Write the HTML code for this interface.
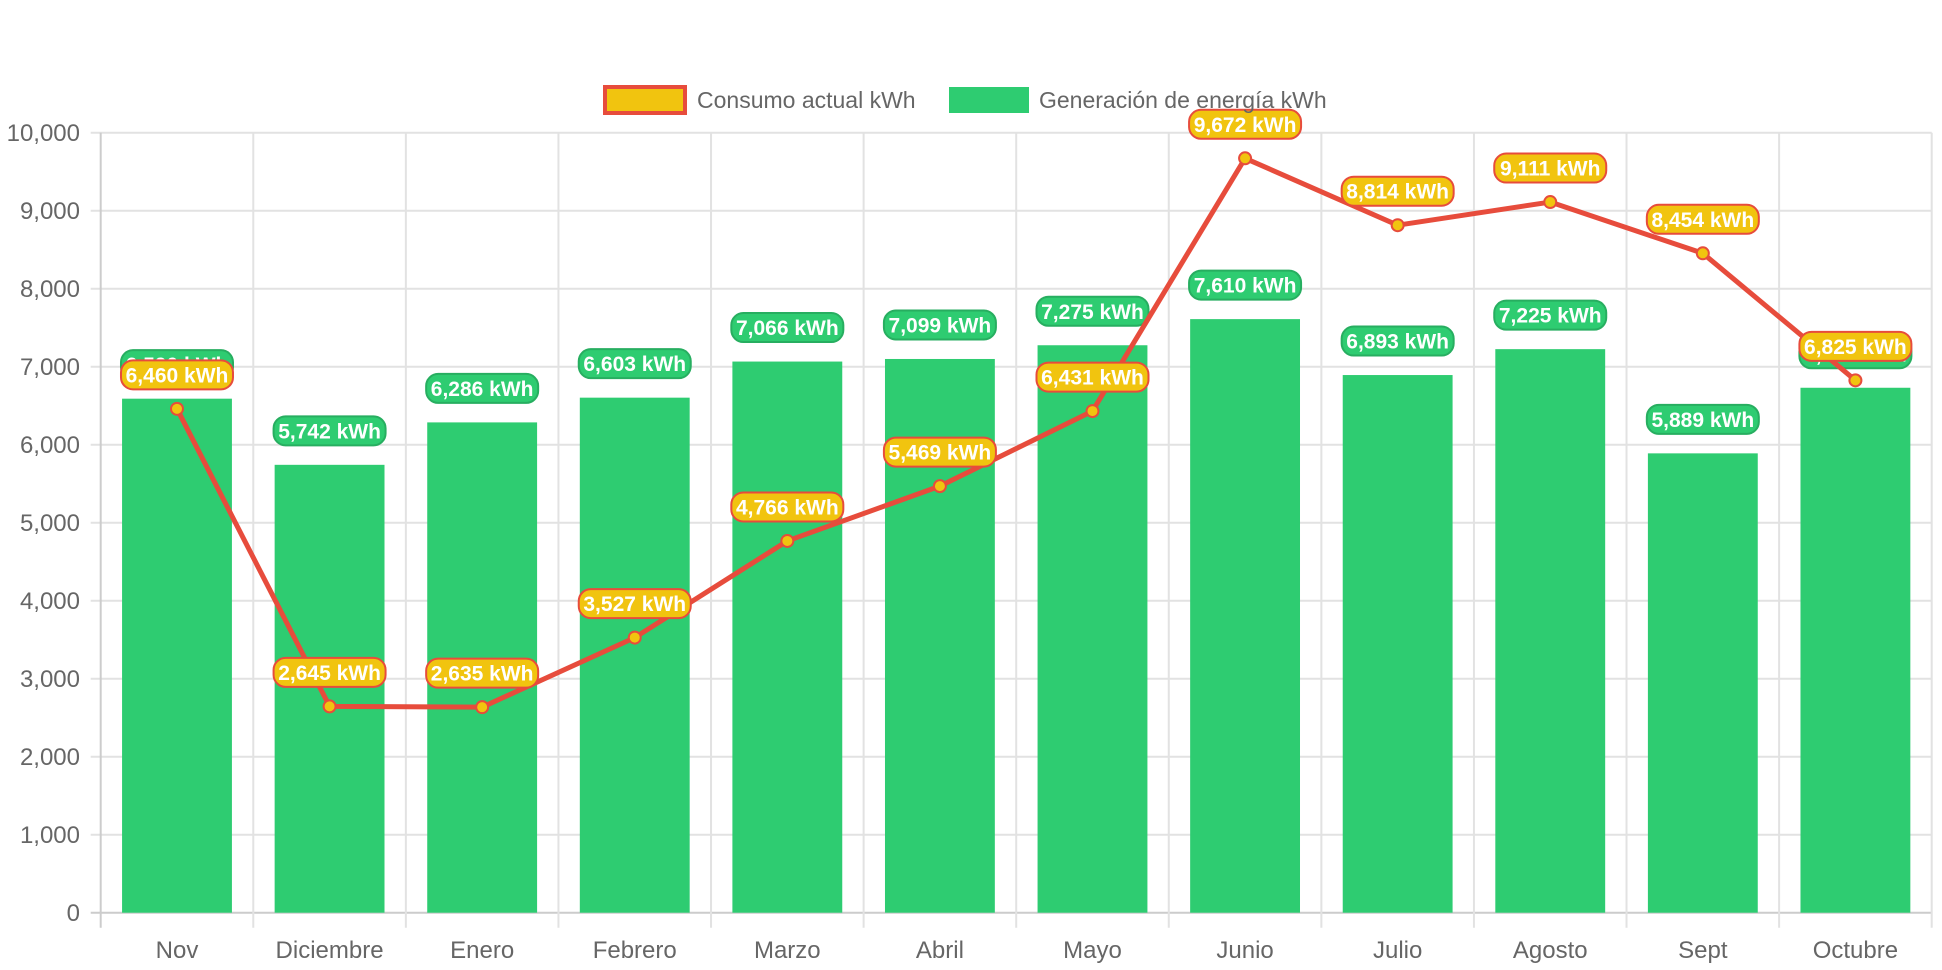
<!DOCTYPE html>
<html><head><meta charset="utf-8"><style>
html,body{margin:0;padding:0;background:#fff;}
svg{display:block;font-family:"Liberation Sans",Arial,sans-serif;}
</style></head><body>
<svg id="chart" width="1942" height="970" xmlns="http://www.w3.org/2000/svg">
<g id="grid"></g>
<g id="yaxis"></g>
<g id="xaxis"></g>
<g id="bars"></g>
<g id="barlabels"></g>
<g id="line"></g>
<g id="linelabels"></g>
<g>
<g>
<rect x="605" y="87" width="80" height="26" fill="#f1c40f" stroke="#e74c3c" stroke-width="4"/>
<text x="697" y="108" font-size="23" fill="#666">Consumo actual kWh</text></g>
<g>
<rect x="949" y="87" width="80" height="26" fill="#2ecc71"/>
<text x="1039" y="108" font-size="23" fill="#666">Generación de energía kWh</text></g>
</g>
</svg>
<script>
const categories=["Nov","Diciembre","Enero","Febrero","Marzo","Abril","Mayo","Junio","Julio","Agosto","Sept","Octubre"];
const generacion=[6590,5742,6286,6603,7066,7099,7275,7610,6893,7225,5889,6730];
const consumo=[6460,2645,2635,3527,4766,5469,6431,9672,8814,9111,8454,6825];
const yTicks=[0,1000,2000,3000,4000,5000,6000,7000,8000,9000,10000];
const NS="http://www.w3.org/2000/svg";
const L=100.7,R=1931.7,T=132.7,B=912.7,YMAX=10000;
const cw=(R-L)/categories.length;
function y(v){return B-(v/YMAX)*(B-T);}
function xc(i){return L+cw*(i+0.5);}
function mk(tag,attrs,parent){const e=document.createElementNS(NS,tag);for(const k in attrs)e.setAttribute(k,attrs[k]);parent.appendChild(e);return e;}
const fmt=v=>v.toLocaleString("en-US");
const grid=document.getElementById("grid"),ya=document.getElementById("yaxis"),xa=document.getElementById("xaxis");
yTicks.forEach(t=>{
  const ln=mk("line",{x1:L-10,x2:R,y1:y(t),y2:y(t),stroke:t===0?"#ccc":"#e2e2e2","stroke-width":2},grid);
  
  
  const tx=mk("text",{x:80,y:y(t)+8.5,"text-anchor":"end","font-size":24,fill:"#666"},ya);
  tx.textContent=fmt(t);
  
  
});
for(let i=0;i<=categories.length;i++){
  const x=L+cw*i;
  const ln=mk("line",{x1:x,x2:x,y1:T,y2:B+15,stroke:i===0?"#ccc":"#e2e2e2","stroke-width":2},grid);
  
  
}
categories.forEach((c,i)=>{
  const tx=mk("text",{x:xc(i),y:958,"text-anchor":"middle","font-size":24,fill:"#666"},xa);
  tx.textContent=c;
  
  
});
function label(parent,cx,cy,text,bg,border){
  const g=mk("g",{},parent);
  const w=112,h=29;
  mk("rect",{x:cx-w/2,y:cy-h/2,width:w,height:h,rx:12,fill:bg,stroke:border,"stroke-width":2},g);
  const t=mk("text",{x:cx,y:cy+7.5,"text-anchor":"middle","font-size":21,"font-weight":"bold",fill:"#fff"},g);
  t.textContent=text;
  return g;
}
const bars=document.getElementById("bars"),bl=document.getElementById("barlabels");
const bw=cw*0.72;
generacion.forEach((v,i)=>{
  const r=mk("rect",{x:xc(i)-bw/2,y:y(v),width:bw,height:B-y(v),fill:"#2ecc71"},bars);
  
  
  const g=label(bl,xc(i),y(v)-34,fmt(v)+" kWh","#2ecc71","#27ae60");
  
  
});
const lg=document.getElementById("line"),ll=document.getElementById("linelabels");
const pts=consumo.map((v,i)=>xc(i)+","+y(v)).join(" ");
const pl=mk("polyline",{points:pts,fill:"none",stroke:"#e74c3c","stroke-width":5,"stroke-linejoin":"round"},lg);


consumo.forEach((v,i)=>{
  const c=mk("circle",{cx:xc(i),cy:y(v),r:6,fill:"#f1c40f",stroke:"#e74c3c","stroke-width":2},lg);
  
  
});
consumo.forEach((v,i)=>{
  const g=label(ll,xc(i),y(v)-34,fmt(v)+" kWh","#f1c40f","#e74c3c");
  
  
});
</script>
</body></html>
